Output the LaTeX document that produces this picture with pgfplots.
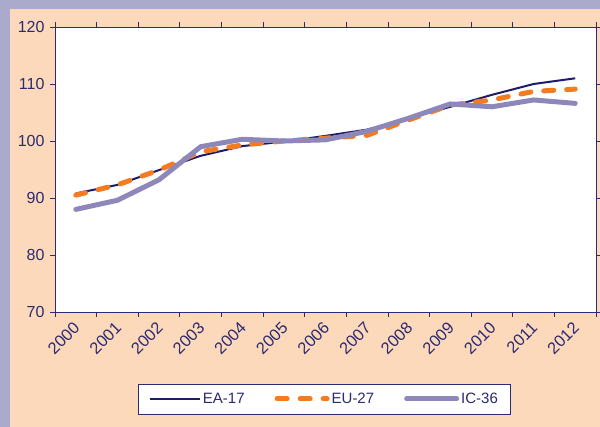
\documentclass[border=0pt]{standalone}
\usepackage{pgfplots}
\pgfplotsset{compat=1.18}
\usepackage{fontspec}
\setmainfont{Liberation Sans}
\definecolor{bglav}{HTML}{AAAACC}
\definecolor{peach}{HTML}{FCD9BB}
\definecolor{navy}{HTML}{1E1B6A}
\definecolor{orng}{HTML}{F47B20}
\definecolor{lav}{HTML}{8E88BA}
\definecolor{axc}{HTML}{2C2A70}
\pgfplotstableread{
x ea eu ic
0 90.8 90.5 88.0
1 92.3 92.3 89.6
2 94.9 94.9 93.2
3 97.4 98.1 99.0
4 99.1 99.3 100.3
5 99.9 100.0 100.0
6 100.9 100.5 100.2
7 102.0 101.0 101.7
8 104.0 103.7 104.0
9 106.0 106.3 106.5
10 108.1 107.2 106.0
11 110.0 108.7 107.2
12 111.0 109.1 106.6
}\datatable
\begin{document}
\begin{tikzpicture}[x=1pt,y=1pt]
\useasboundingbox (0,0) rectangle (600,427);
\fill[bglav] (0,0) rectangle (600,427);
\fill[peach] (10,0) rectangle (600,418);
\begin{axis}[
  at={(55pt,115pt)}, anchor=south west,
  width=541pt, height=285pt, scale only axis,
  xmin=-0.5, xmax=12.5, ymin=70, ymax=120,
  ytick={70,80,...,120},
  xtick={-0.5,0.5,...,12.5}, xticklabels={},
  extra x ticks={0,1,2,3,4,5,6,7,8,9,10,11,12},
  extra x tick labels={2000,2001,2002,2003,2004,2005,2006,2007,2008,2009,2010,2011,2012},
  extra x tick style={major tick length=0pt,
     xticklabel style={xshift=1pt, yshift=-13pt, rotate=45, anchor=east, inner sep=0pt,
       font=\fontsize{16.5}{18}\selectfont}},
  tick align=outside, major tick length=5pt,
  axis line style={axc, line width=0.8pt},
  tick style={axc, line width=0.8pt},
  ticklabel style={font=\fontsize{16}{18}\selectfont, text=axc},
  yticklabel style={xshift=-2pt},
  /pgf/number format/assume math mode=true,
  axis background/.style={fill=white},
  legend columns=3,
  legend style={at={(0.498,-0.305)}, anchor=center, draw=axc, line width=0.8pt, fill=white,
     font=\fontsize{15}{17}\selectfont, text=axc, inner xsep=11pt, inner ysep=7pt,
     /tikz/every even column/.append style={column sep=28pt}},
  legend image code/.code={\draw[#1] (0pt,0pt) -- (50pt,0pt);},
]
\addplot[navy, line width=2pt, line join=round] table[x=x, y=ea] {\datatable};
\addlegendentry{EA-17}
\addplot[orng, line width=5pt, line cap=round, dash pattern=on 10pt off 13pt, line join=round] table[x=x, y=eu] {\datatable};
\addlegendentry{EU-27}
\addplot[lav, line width=5pt, line cap=round, line join=round] table[x=x, y=ic] {\datatable};
\addlegendentry{IC-36}
\end{axis}
\end{tikzpicture}
\end{document}
